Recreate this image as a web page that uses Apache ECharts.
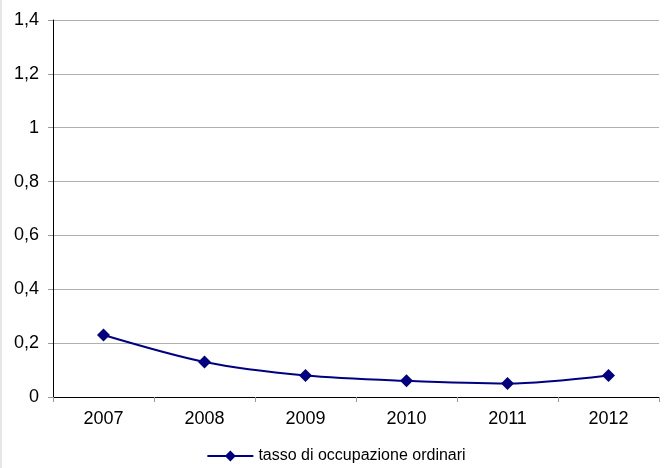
<!DOCTYPE html>
<html>
<head>
<meta charset="utf-8">
<script src="https://cdn.jsdelivr.net/npm/echarts@6/dist/echarts.min.js"></script>
<style>
html,body{margin:0;padding:0;background:#fff;}
#c{width:671px;height:468px;box-sizing:border-box;border-left:2px solid #e6e6e6;}
</style>
</head>
<body>
<div id="c"></div>
<script>
var categories = ['2007','2008','2009','2010','2011','2012'];
var seriesName = 'tasso di occupazione ordinari';
var values = [0.23, 0.13, 0.08, 0.06, 0.05, 0.08];

var chart = echarts.init(document.getElementById('c'));
var font = 'Liberation Sans, Arial, sans-serif';
chart.setOption({
  animation: false,
  grid: {left: 51, right: 12, top: 20, bottom: 71, containLabel: false},
  xAxis: {
    type: 'category',
    data: categories,
    boundaryGap: true,
    axisLine: {lineStyle: {color: '#000', width: 1}},
    axisTick: {show: true, alignWithLabel: false, length: 5, lineStyle: {color: '#999'}},
    axisLabel: {color: '#000', fontFamily: font, fontSize: 18, margin: 13}
  },
  yAxis: {
    type: 'value',
    min: 0, max: 1.4, interval: 0.2,
    axisLine: {show: true, lineStyle: {color: '#000', width: 1}},
    axisTick: {show: true, length: 5, lineStyle: {color: '#999'}},
    splitLine: {lineStyle: {color: '#b0b0b0', width: 1}},
    axisLabel: {
      color: '#000', fontFamily: font, fontSize: 18, margin: 14,
      formatter: function (v) { return (Math.round(v * 10) / 10).toString().replace('.', ','); }
    }
  },
  legend: {
    bottom: -1,
    left: 'center',
    itemWidth: 46,
    itemHeight: 11,
    itemGap: 4,
    textStyle: {color: '#000', fontFamily: font, fontSize: 16},
    data: [{name: seriesName, icon: 'path://M0,4.5L46,4.5L46,6.5L0,6.5Z M23,0L28.5,5.5L23,11L17.5,5.5Z'}]
  },
  series: [{
    name: seriesName,
    type: 'line',
    data: values,
    smooth: 0.3,
    symbol: 'diamond',
    symbolSize: 13,
    color: '#000080',
    lineStyle: {color: '#000080', width: 2},
    itemStyle: {color: '#000080'}
  }]
});
</script>
</body>
</html>
